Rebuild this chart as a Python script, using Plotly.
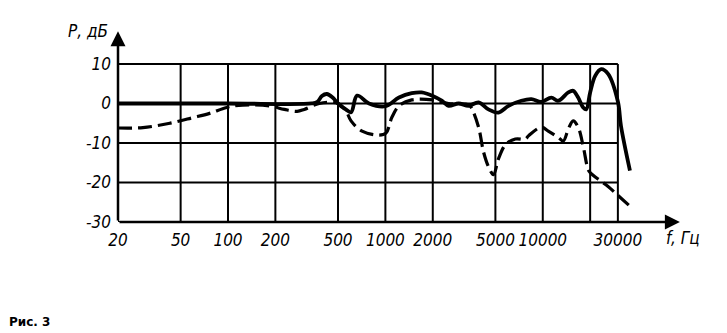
import numpy as np
import plotly.graph_objects as go

# ---- data ----
solid_f = [20, 100, 340, 370, 395, 425, 460, 500, 560, 605, 661, 787, 1000, 1220, 1470, 1700, 2000,
           2280, 2520, 2920, 3380, 3910, 4520, 5230, 6060, 7310, 8470, 9790, 11330, 12540,
           14520, 15600, 16780, 18060, 18880, 20000, 21530, 23500, 26000, 30000, 31400, 35800]
solid_db = [0, 0, 0, 0.4, 1.9, 2.4, 1.6, 0, -1.5, -2.2, 2.0, 0, -0.7, 1.5, 2.6, 2.8, 1.9,
            0.7, -0.6, 0, -0.6, 0.3, -1.5, -2.3, -0.6, 0.7, 1.1, 0.4, 1.5, 0.7,
            2.8, 3.2, 1.5, -1.0, -1.5, 2.8, 7.0, 8.7, 7.5, 0.5, -5.7, -17.0]

dash_f = [20, 28.8, 42.7, 59.7, 76.4, 98, 124, 183, 228, 275, 305, 380, 500, 562, 605, 711, 910,
          1008, 1100, 1220, 1470, 2000, 2520, 3380, 3530, 3910, 4200, 4520, 4860, 5230, 5800,
          6700, 7760, 8110, 9790, 10840, 12540, 13500, 14520, 15600, 16780, 18060, 19400,
          20000, 23100, 26000, 28800, 35300]
dash_db = [-6.2, -6.1, -5.0, -3.6, -2.5, -1.0, -0.4, -0.6, -1.5, -2.0, -1.5, 0, 0, -1.9, -4.4, -7.0, -8.0,
           -7.5, -3.5, -0.6, 0.9, 0.9, 0, -0.3, -1.2, -6.0, -12.2, -16.0, -18.0, -14.0, -10.4,
           -9.0, -9.0, -8.2, -6.0, -7.0, -8.6, -9.5, -6.5, -4.4, -6.0, -10.8, -16.7,
           -17.5, -19.5, -21.0, -22.6, -25.8]

x_grid = [20, 50, 100, 200, 500, 1000, 2000, 5000, 10000, 20000, 30000]
x_tickvals = [20, 50, 100, 200, 500, 1000, 2000, 5000, 10000, 30000]
x_ticktext = ["20", "50", "100", "200", "500", "1000", "2000", "5000", "10000", "30000"]
y_grid = [-30, -20, -10, 0, 10]
y_ticktext = ["-30", "-20", "-10", "0", "10"]

X_MIN, X_BOX, X_MAX = 20, 30000, 77800
Y_MIN, Y_BOX, Y_MAX = -30, 10, 18.6

FONT = "Liberation Sans Narrow, DejaVu Sans Condensed, Arial Narrow, sans-serif"

fig = go.Figure()
fig.add_trace(go.Scatter(x=dash_f, y=dash_db, mode="lines", line_shape="spline",
                         line=dict(color="black", width=3.2, dash="14px,6px")))
fig.add_trace(go.Scatter(x=solid_f, y=solid_db, mode="lines", line_shape="spline",
                         line=dict(color="black", width=3.8)))

shapes = []
for xv in x_grid:
    shapes.append(dict(type="line", xref="x", yref="y", x0=xv, x1=xv, y0=Y_MIN, y1=Y_BOX,
                       line=dict(color="black", width=2), layer="below"))
for yv in y_grid:
    shapes.append(dict(type="line", xref="x", yref="y", x0=X_MIN, x1=X_BOX, y0=yv, y1=yv,
                       line=dict(color="black", width=2), layer="below"))

annotations = [
    # y axis with arrow
    dict(x=np.log10(X_MIN), y=Y_MAX - 0.3, ax=np.log10(X_MIN), ay=Y_MIN, xref="x", yref="y",
         axref="x", ayref="y", text="", showarrow=True, arrowhead=2, arrowsize=1.2,
         arrowwidth=2.5, arrowcolor="black"),
    # x axis with arrow
    dict(x=np.log10(X_MAX) - 0.02, y=Y_MIN, ax=np.log10(X_MIN), ay=Y_MIN, xref="x", yref="y",
         axref="x", ayref="y", text="", showarrow=True, arrowhead=2, arrowsize=1.2,
         arrowwidth=2.5, arrowcolor="black"),
    dict(text="Р, дБ", x=-0.014, y=0.995, xref="paper", yref="paper", xanchor="right",
         yanchor="middle", showarrow=False,
         font=dict(family=FONT, size=17, color="black", style="italic")),
    dict(text="f, Гц", x=1.0, y=-0.085, xref="paper", yref="paper", xanchor="center",
         yanchor="middle", showarrow=False,
         font=dict(family=FONT, size=17, color="black", style="italic")),
    dict(text="<b>Рис. 3</b>", x=-0.196, y=-0.52, xref="paper", yref="paper", xanchor="left",
         yanchor="middle", showarrow=False,
         font=dict(family="DejaVu Sans", size=12, color="black")),
]

fig.update_layout(
    width=727, height=333,
    margin=dict(l=118, r=44, t=30, b=111),
    paper_bgcolor="white", plot_bgcolor="white",
    showlegend=False,
    shapes=shapes, annotations=annotations,
    xaxis=dict(type="log", range=[np.log10(X_MIN), np.log10(X_MAX)], showgrid=False,
               zeroline=False, showline=False, tickmode="array", tickvals=x_tickvals,
               ticktext=x_ticktext, ticks="", ticklabelstandoff=6,
               tickfont=dict(family=FONT, size=17, color="black", style="italic")),
    yaxis=dict(range=[Y_MIN, Y_MAX], showgrid=False, zeroline=False, showline=False,
               tickmode="array", tickvals=y_grid, ticktext=y_ticktext, ticks="",
               ticklabelstandoff=6,
               tickfont=dict(family=FONT, size=17, color="black", style="italic")),
)

fig.write_html("out.html")
